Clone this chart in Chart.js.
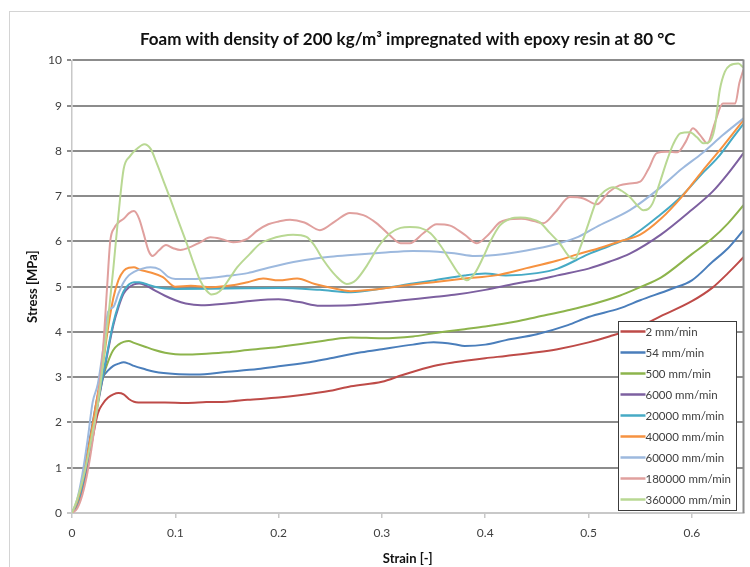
<!DOCTYPE html>
<html>
<head>
<meta charset="utf-8">
<script src="https://cdn.jsdelivr.net/npm/chart.js@4/dist/chart.umd.min.js"></script>
<style>
  html, body { margin: 0; padding: 0; background: #fff; }
  canvas { display: block; }
</style>
</head>
<body>
<canvas id="chart" width="750" height="567"></canvas>
<script>
// Compression curves: strain [-] vs stress [MPa] for each crosshead speed
const seriesLabels = ['2 mm/min', '54 mm/min', '500 mm/min', '6000 mm/min', '20000 mm/min',
  '40000 mm/min', '60000 mm/min', '180000 mm/min', '360000 mm/min'];
const seriesColors = ['#BE4B48', '#4A7EBB', '#8DB44C', '#7D60A0', '#46AAC5',
  '#F69240', '#9DB9DE', '#E0A09E', '#B9D893'];

const xTicks = [0, 0.1, 0.2, 0.3, 0.4, 0.5, 0.6];
const yTicks = [0, 1, 2, 3, 4, 5, 6, 7, 8, 9, 10];

const strain2 = [0, 0.005, 0.01, 0.015, 0.02, 0.025, 0.03, 0.035, 0.04, 0.045, 0.05, 0.055, 0.06, 0.07, 0.09, 0.11, 0.13, 0.15, 0.17, 0.2, 0.22, 0.25, 0.27, 0.3, 0.32, 0.35, 0.37, 0.4, 0.42, 0.45, 0.47, 0.5, 0.52, 0.55, 0.57, 0.6, 0.62, 0.635, 0.65];
const stress2 = [0, 0.15, 0.5, 1.05, 1.65, 2.2, 2.42, 2.55, 2.62, 2.65, 2.62, 2.52, 2.46, 2.44, 2.44, 2.43, 2.45, 2.46, 2.5, 2.55, 2.6, 2.7, 2.8, 2.9, 3.05, 3.25, 3.33, 3.42, 3.47, 3.55, 3.62, 3.77, 3.9, 4.13, 4.35, 4.68, 4.98, 5.3, 5.65];

const strain54 = [0, 0.005, 0.01, 0.015, 0.02, 0.025, 0.03, 0.035, 0.04, 0.045, 0.05, 0.055, 0.06, 0.07, 0.08, 0.1, 0.12, 0.15, 0.18, 0.2, 0.23, 0.25, 0.28, 0.3, 0.33, 0.35, 0.37, 0.38, 0.4, 0.42, 0.45, 0.48, 0.5, 0.53, 0.55, 0.58, 0.6, 0.62, 0.635, 0.65];
const stress54 = [0, 0.25, 0.75, 1.35, 2.0, 2.6, 3.0, 3.15, 3.25, 3.3, 3.33, 3.3, 3.25, 3.18, 3.12, 3.07, 3.06, 3.12, 3.18, 3.24, 3.33, 3.42, 3.55, 3.62, 3.72, 3.77, 3.73, 3.69, 3.72, 3.82, 3.95, 4.15, 4.33, 4.52, 4.7, 4.95, 5.14, 5.55, 5.85, 6.25];

const strain500 = [0, 0.005, 0.01, 0.015, 0.02, 0.025, 0.03, 0.035, 0.04, 0.045, 0.05, 0.055, 0.06, 0.07, 0.08, 0.09, 0.1, 0.11, 0.13, 0.15, 0.17, 0.2, 0.23, 0.25, 0.27, 0.3, 0.33, 0.35, 0.38, 0.4, 0.43, 0.45, 0.48, 0.5, 0.53, 0.55, 0.57, 0.6, 0.62, 0.635, 0.65];
const stress500 = [0, 0.2, 0.6, 1.2, 1.8, 2.45, 3.0, 3.35, 3.6, 3.72, 3.78, 3.8, 3.76, 3.68, 3.6, 3.54, 3.51, 3.5, 3.52, 3.55, 3.6, 3.67, 3.76, 3.83, 3.88, 3.86, 3.9, 3.97, 4.06, 4.12, 4.23, 4.33, 4.48, 4.59, 4.8, 4.99, 5.2, 5.72, 6.07, 6.4, 6.8];

const strain6000 = [0, 0.005, 0.01, 0.015, 0.02, 0.025, 0.03, 0.035, 0.04, 0.045, 0.05, 0.055, 0.06, 0.065, 0.07, 0.08, 0.09, 0.1, 0.11, 0.125, 0.15, 0.175, 0.2, 0.22, 0.24, 0.27, 0.3, 0.32, 0.35, 0.37, 0.4, 0.43, 0.45, 0.47, 0.5, 0.52, 0.54, 0.57, 0.6, 0.62, 0.635, 0.65];
const stress6000 = [0, 0.2, 0.6, 1.15, 1.75, 2.4, 3.0, 3.6, 4.15, 4.55, 4.85, 4.98, 5.05, 5.07, 5.04, 4.92, 4.8, 4.7, 4.63, 4.59, 4.63, 4.69, 4.72, 4.66, 4.58, 4.59, 4.65, 4.7, 4.77, 4.82, 4.93, 5.07, 5.15, 5.25, 5.4, 5.55, 5.73, 6.15, 6.7, 7.1, 7.5, 7.95];

const strain20000 = [0, 0.005, 0.01, 0.015, 0.02, 0.025, 0.03, 0.035, 0.04, 0.045, 0.05, 0.055, 0.06, 0.065, 0.07, 0.08, 0.09, 0.1, 0.15, 0.2, 0.24, 0.27, 0.3, 0.33, 0.35, 0.38, 0.4, 0.42, 0.45, 0.47, 0.5, 0.52, 0.54, 0.57, 0.59, 0.61, 0.625, 0.64, 0.65];
const stress20000 = [0, 0.2, 0.6, 1.2, 1.8, 2.45, 3.05, 3.65, 4.2, 4.6, 4.9, 5.05, 5.1, 5.1, 5.07, 5.0, 4.96, 4.95, 4.96, 4.97, 4.93, 4.88, 4.96, 5.07, 5.14, 5.25, 5.29, 5.25, 5.3, 5.4, 5.72, 5.9, 6.09, 6.6, 7.0, 7.5, 7.85, 8.3, 8.6];

const strain40000 = [0, 0.005, 0.01, 0.015, 0.02, 0.025, 0.03, 0.035, 0.04, 0.045, 0.05, 0.055, 0.06, 0.065, 0.075, 0.088, 0.1, 0.115, 0.135, 0.155, 0.17, 0.185, 0.2, 0.218, 0.235, 0.25, 0.27, 0.29, 0.32, 0.35, 0.38, 0.41, 0.44, 0.47, 0.49, 0.51, 0.53, 0.55, 0.57, 0.59, 0.61, 0.63, 0.65];
const stress40000 = [0, 0.25, 0.7, 1.3, 1.95, 2.65, 3.3, 4.1, 4.75, 5.15, 5.35, 5.42, 5.43, 5.38, 5.32, 5.21, 5.0, 5.02, 4.99, 5.03, 5.1, 5.18, 5.14, 5.18, 5.06, 4.98, 4.9, 4.93, 5.02, 5.1, 5.18, 5.25, 5.41, 5.58, 5.72, 5.85, 6.0, 6.15, 6.5, 6.98, 7.55, 8.1, 8.68];

const strain60000 = [0, 0.005, 0.01, 0.015, 0.02, 0.025, 0.03, 0.035, 0.04, 0.045, 0.05, 0.055, 0.06, 0.068, 0.076, 0.085, 0.093, 0.1, 0.117, 0.135, 0.15, 0.17, 0.19, 0.22, 0.25, 0.27, 0.3, 0.33, 0.35, 0.37, 0.39, 0.41, 0.44, 0.47, 0.49, 0.51, 0.54, 0.57, 0.59, 0.61, 0.63, 0.65];
const stress60000 = [0, 0.3, 0.85, 1.6, 2.45, 2.85, 3.6, 4.45, 4.55, 4.85, 5.1, 5.25, 5.33, 5.4, 5.43, 5.38, 5.22, 5.17, 5.17, 5.2, 5.24, 5.3, 5.42, 5.57, 5.66, 5.7, 5.75, 5.79, 5.78, 5.74, 5.68, 5.7, 5.8, 5.95, 6.1, 6.35, 6.69, 7.2, 7.6, 7.95, 8.35, 8.72];

const strain180000 = [0, 0.005, 0.01, 0.015, 0.02, 0.025, 0.03, 0.034, 0.037, 0.041, 0.045, 0.05, 0.055, 0.06, 0.065, 0.069, 0.074, 0.078, 0.084, 0.091, 0.098, 0.105, 0.115, 0.124, 0.134, 0.145, 0.156, 0.169, 0.18, 0.19, 0.2, 0.211, 0.225, 0.24, 0.255, 0.269, 0.282, 0.295, 0.307, 0.318, 0.327, 0.34, 0.353, 0.366, 0.38, 0.392, 0.403, 0.414, 0.421, 0.435, 0.447, 0.456, 0.468, 0.482, 0.495, 0.508, 0.52, 0.53, 0.54, 0.55, 0.558, 0.566, 0.576, 0.586, 0.594, 0.601, 0.608, 0.615, 0.622, 0.63, 0.636, 0.642, 0.646, 0.65];
const stress180000 = [0, 0.1, 0.4, 0.9, 1.6, 2.5, 3.6, 5.0, 6.0, 6.3, 6.42, 6.5, 6.62, 6.67, 6.5, 6.2, 5.8, 5.68, 5.8, 5.92, 5.85, 5.81, 5.88, 5.98, 6.09, 6.05, 5.98, 6.05, 6.25, 6.38, 6.44, 6.48, 6.42, 6.25, 6.45, 6.63, 6.58, 6.4, 6.15, 5.96, 5.96, 6.18, 6.38, 6.35, 6.15, 5.96, 6.15, 6.42, 6.48, 6.5, 6.45, 6.4, 6.65, 6.98, 6.95, 6.82, 7.1, 7.24, 7.28, 7.32, 7.6, 7.95, 7.98, 7.97, 8.2, 8.5, 8.35, 8.17, 8.6, 9.05, 9.05, 9.05, 9.5, 9.8];

const strain360000 = [0, 0.005, 0.01, 0.015, 0.02, 0.025, 0.03, 0.035, 0.04, 0.045, 0.05, 0.056, 0.063, 0.07, 0.076, 0.082, 0.09, 0.095, 0.103, 0.111, 0.118, 0.124, 0.13, 0.135, 0.14, 0.146, 0.153, 0.16, 0.172, 0.182, 0.192, 0.203, 0.214, 0.227, 0.235, 0.243, 0.255, 0.266, 0.275, 0.285, 0.297, 0.308, 0.318, 0.327, 0.337, 0.347, 0.357, 0.366, 0.374, 0.382, 0.39, 0.398, 0.405, 0.414, 0.424, 0.434, 0.444, 0.453, 0.462, 0.472, 0.482, 0.487, 0.492, 0.5, 0.508, 0.516, 0.524, 0.532, 0.54, 0.547, 0.553, 0.558, 0.562, 0.569, 0.576, 0.582, 0.589, 0.598, 0.605, 0.611, 0.617, 0.622, 0.627, 0.632, 0.637, 0.645, 0.65];
const stress360000 = [0, 0.3, 0.7, 1.2, 1.8, 2.4, 3.3, 4.3, 5.4, 6.6, 7.6, 7.88, 8.05, 8.15, 8.05, 7.73, 7.25, 6.95, 6.45, 5.96, 5.5, 5.14, 4.92, 4.83, 4.85, 4.97, 5.2, 5.43, 5.72, 5.95, 6.05, 6.12, 6.15, 6.1, 5.9, 5.6, 5.25, 5.06, 5.15, 5.45, 5.9, 6.18, 6.3, 6.32, 6.3, 6.18, 5.9, 5.58, 5.3, 5.14, 5.3, 5.65, 6.0, 6.35, 6.5, 6.53, 6.5, 6.42, 6.2, 5.96, 5.65, 5.62, 5.87, 6.4, 6.91, 7.12, 7.2, 7.12, 6.98, 6.8, 6.69, 6.72, 6.84, 7.3, 7.79, 8.15, 8.39, 8.41, 8.3, 8.17, 8.2, 8.5, 9.34, 9.75, 9.89, 9.93, 9.84];

const strainSets = [strain2, strain54, strain500, strain6000, strain20000, strain40000, strain60000, strain180000, strain360000];
const stressSets = [stress2, stress54, stress500, stress6000, stress20000, stress40000, stress60000, stress180000, stress360000];

const datasets = seriesLabels.map((label, i) => ({
  label,
  data: strainSets[i].map((x, k) => ({ x, y: stressSets[i][k] })),
  borderColor: seriesColors[i],
  backgroundColor: seriesColors[i],
  borderWidth: 2,
  pointRadius: 0,
  fill: false,
  cubicInterpolationMode: 'monotone',
  order: seriesLabels.length - 1 - i
}));

const textColor = '#404040';
const gridColor = '#8C8C8C';
const axisColor = '#C8C8C8';

// White page with the light outer frame of the chart object
const frame = {
  id: 'frame',
  beforeDraw(chart) {
    const { ctx } = chart;
    ctx.save();
    ctx.fillStyle = '#fff';
    ctx.fillRect(0, 0, chart.width, chart.height);
    ctx.strokeStyle = '#D4D4D4';
    ctx.lineWidth = 1;
    ctx.strokeRect(9.5, 11.5, 800, 600);
    ctx.restore();
  },
  afterDraw(chart) {
    // right edge of the plot area
    const { ctx, chartArea: a } = chart;
    ctx.save();
    ctx.strokeStyle = gridColor;
    ctx.lineWidth = 2;
    ctx.beginPath();
    ctx.moveTo(a.right, a.top - 1);
    ctx.lineTo(a.right, a.bottom);
    ctx.stroke();
    ctx.restore();
  }
};

// Boxed legend in the lower right corner of the plot area
const boxedLegend = {
  id: 'boxedLegend',
  afterDraw(chart) {
    const { ctx, chartArea: a } = chart;
    const w = 118, h = 189;
    const x0 = Math.round(a.right - 126) + 0.5;
    const y0 = Math.round(a.bottom - 192) + 0.5;
    ctx.save();
    ctx.fillStyle = '#fff';
    ctx.fillRect(x0, y0, w, h);
    ctx.strokeStyle = '#3C3C3C';
    ctx.lineWidth = 1;
    ctx.strokeRect(x0, y0, w, h);
    ctx.font = '11.5px Lato';
    ctx.textBaseline = 'middle';
    ctx.textAlign = 'left';
    chart.data.datasets.forEach((ds, i) => {
      const y = y0 + 10 + i * 21;
      ctx.strokeStyle = ds.borderColor;
      ctx.lineWidth = 2.5;
      ctx.beginPath();
      ctx.moveTo(x0 + 2, y);
      ctx.lineTo(x0 + 27, y);
      ctx.stroke();
      ctx.fillStyle = textColor;
      ctx.fillText(ds.label, x0 + 27, y + 0.5);
    });
    ctx.restore();
  }
};

Chart.defaults.font.family = 'Lato';
Chart.defaults.color = textColor;

new Chart(document.getElementById('chart'), {
  type: 'line',
  data: { datasets },
  plugins: [frame, boxedLegend],
  options: {
    responsive: false,
    animation: false,
    layout: { padding: { left: 0, right: 6.5, top: 0, bottom: 0 } },
    plugins: {
      legend: { display: false },
      tooltip: { enabled: false },
      title: {
        display: true,
        text: 'Foam with density of 200 kg/m³ impregnated with epoxy resin at 80 °C',
        fullSize: false,
        color: '#111',
        font: { size: 17, weight: 'bold' },
        padding: { top: 29, bottom: 11 }
      }
    },
    scales: {
      x: {
        type: 'linear',
        min: 0,
        max: 0.65,
        afterBuildTicks(scale) { scale.ticks = xTicks.map(v => ({ value: v })); },
        afterFit(scale) { scale.height = 54; },
        ticks: { padding: 8, font: { size: 12 }, color: textColor },
        grid: { drawOnChartArea: false, drawTicks: true, tickLength: 5, color: axisColor, lineWidth: 1.5 },
        border: { display: true, color: axisColor, width: 2 },
        title: { display: true, text: 'Strain [-]', color: '#111', font: { size: 13, weight: 'bold' }, padding: { top: 0, bottom: 0 } }
      },
      y: {
        type: 'linear',
        min: 0,
        max: 10,
        afterBuildTicks(scale) { scale.ticks = yTicks.map(v => ({ value: v })); },
        afterFit(scale) { scale.width = 72; },
        ticks: { padding: 5, font: { size: 12 }, color: textColor },
        grid: {
          color: ctx => (ctx.tick && ctx.tick.value === 0 ? axisColor : gridColor),
          lineWidth: 2,
          tickLength: 5
        },
        border: { display: true, color: axisColor, width: 1.5 },
        title: { display: true, text: 'Stress [MPa]', color: '#111', font: { size: 13, weight: 'bold' }, padding: { top: 25, bottom: 0 } }
      }
    }
  }
});
</script>
</body>
</html>
